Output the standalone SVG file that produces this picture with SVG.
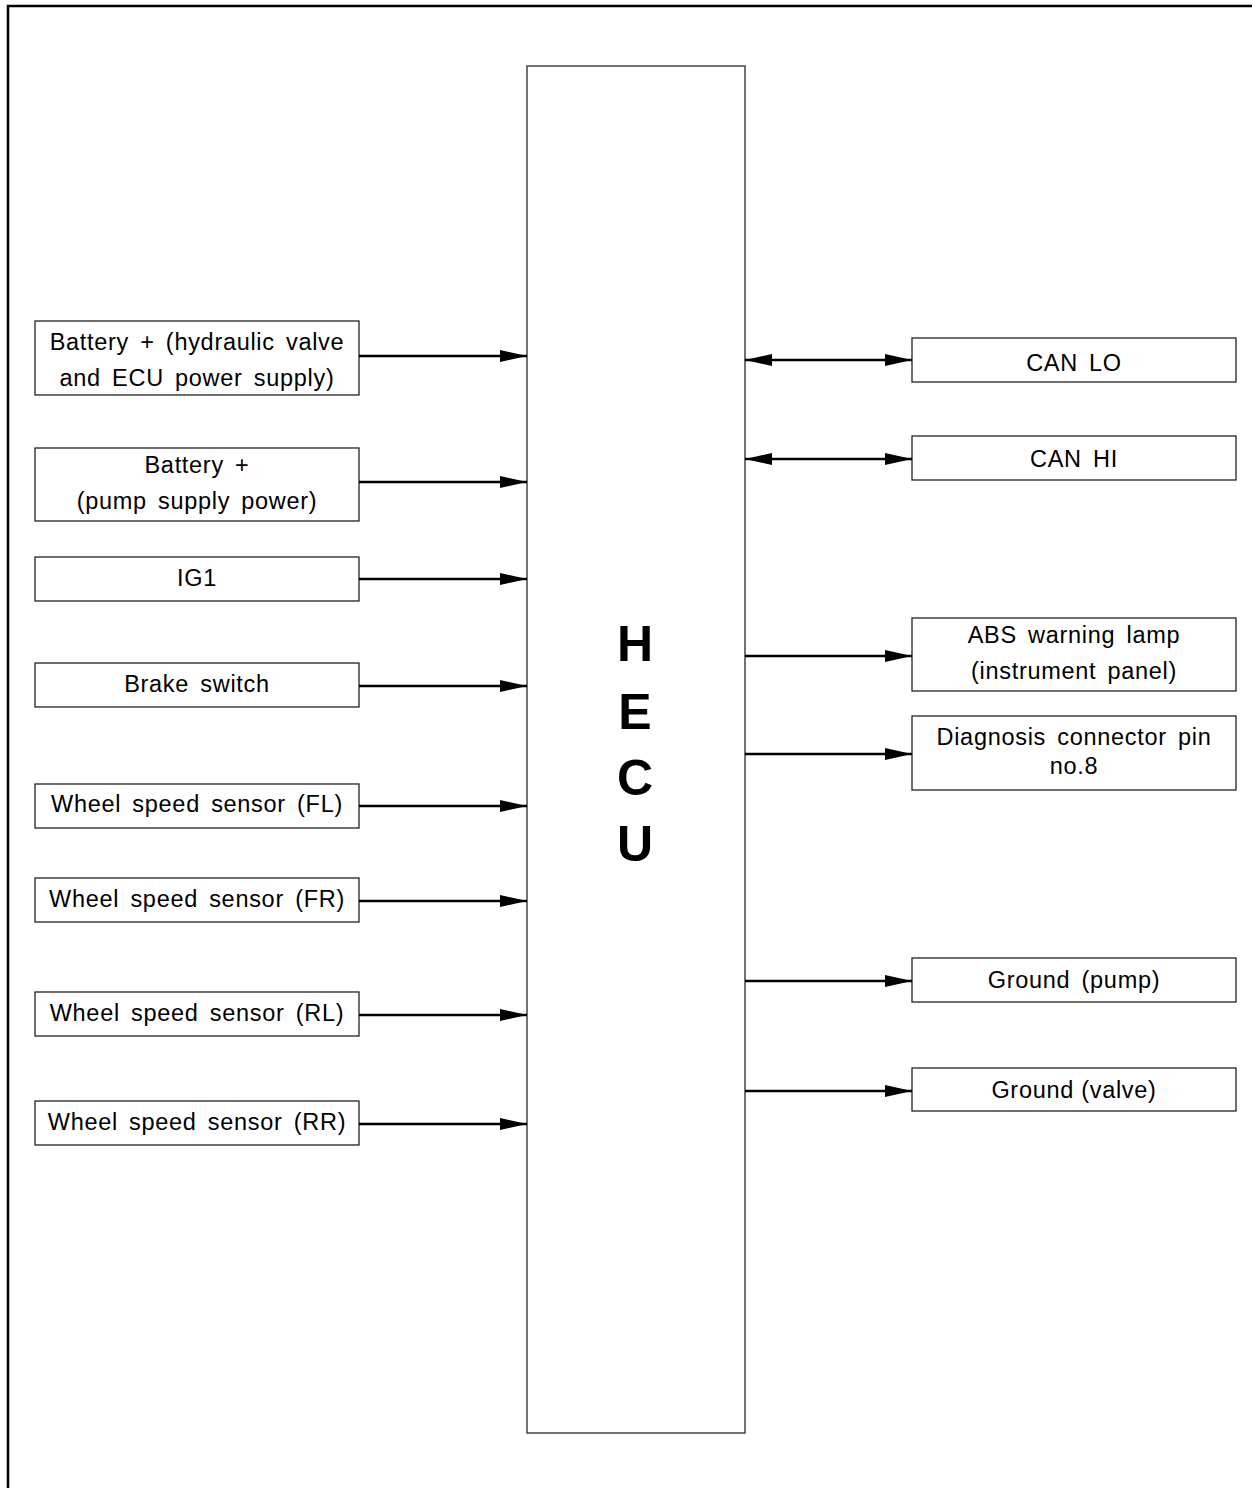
<svg xmlns="http://www.w3.org/2000/svg" width="1252" height="1488" viewBox="0 0 1252 1488">
<style>
.box{fill:#fff;stroke:#222;stroke-width:1.3}
.hecu{fill:#fff;stroke:#444;stroke-width:1.5}
.t{font-family:"Liberation Sans",Arial,sans-serif;font-size:23.5px;fill:#000;text-anchor:middle;letter-spacing:0.7px;word-spacing:4px}
.nw{word-spacing:0}
.big{font-family:"Liberation Sans",Arial,sans-serif;font-size:50px;font-weight:bold;fill:#000;text-anchor:middle}
.c{stroke:#000;stroke-width:2.5;fill:none}
</style>
<defs>
<marker id="ah" markerWidth="27" markerHeight="12" refX="27" refY="6" orient="auto" markerUnits="userSpaceOnUse">
<path d="M0,0 L27,6 L0,12 Z" fill="#000"/>
</marker>
<marker id="as" markerWidth="27" markerHeight="12" refX="0" refY="6" orient="auto" markerUnits="userSpaceOnUse">
<path d="M27,0 L0,6 L27,12 Z" fill="#000"/>
</marker>
</defs>
<rect x="0" y="0" width="1252" height="1488" fill="#fff"/>
<path d="M8,1490 L8,6 L1254,6" fill="none" stroke="#000" stroke-width="2.5"/>
<g id="hecu">
<rect class="hecu" x="527" y="66" width="218" height="1367"/>
<text class="big" x="635" y="661">H</text>
<text class="big" x="635" y="729">E</text>
<text class="big" x="635" y="795">C</text>
<text class="big" x="635" y="861">U</text>
</g>
<g id="n1"><rect class="box" x="35" y="321" width="324" height="74"/><text class="t" x="197" y="350">Battery + (hydraulic valve</text><text class="t" x="197" y="386">and ECU power supply)</text></g>
<g id="n2"><rect class="box" x="35" y="448" width="324" height="73"/><text class="t" x="197" y="473">Battery +</text><text class="t" x="197" y="509">(pump supply power)</text></g>
<g id="n3"><rect class="box" x="35" y="557" width="324" height="44"/><text class="t" x="197" y="586">IG1</text></g>
<g id="n4"><rect class="box" x="35" y="663" width="324" height="44"/><text class="t" x="197" y="692">Brake switch</text></g>
<g id="n5"><rect class="box" x="35" y="784" width="324" height="44"/><text class="t" x="197" y="812">Wheel speed sensor (FL)</text></g>
<g id="n6"><rect class="box" x="35" y="878" width="324" height="44"/><text class="t" x="197" y="907">Wheel speed sensor (FR)</text></g>
<g id="n7"><rect class="box" x="35" y="992" width="324" height="44"/><text class="t" x="197" y="1021">Wheel speed sensor (RL)</text></g>
<g id="n8"><rect class="box" x="35" y="1101" width="324" height="44"/><text class="t" x="197" y="1130">Wheel speed sensor (RR)</text></g>
<g id="r1"><rect class="box" x="912" y="338" width="324" height="44"/><text class="t" x="1074" y="371">CAN LO</text></g>
<g id="r2"><rect class="box" x="912" y="436" width="324" height="44"/><text class="t" x="1074" y="467">CAN HI</text></g>
<g id="r3"><rect class="box" x="912" y="618" width="324" height="73"/><text class="t" x="1074" y="643">ABS warning lamp</text><text class="t" x="1074" y="679">(instrument panel)</text></g>
<g id="r4"><rect class="box" x="912" y="716" width="324" height="74"/><text class="t" x="1074" y="745">Diagnosis connector pin</text><text class="t" x="1074" y="774">no.8</text></g>
<g id="r5"><rect class="box" x="912" y="958" width="324" height="44"/><text class="t" x="1074" y="988">Ground (pump)</text></g>
<g id="r6"><rect class="box" x="912" y="1068" width="324" height="43"/><text class="t nw" x="1074" y="1098">Ground (valve)</text></g>
<g id="connectors">
<line class="c" x1="359" y1="356" x2="527" y2="356" marker-end="url(#ah)"/>
<line class="c" x1="359" y1="482" x2="527" y2="482" marker-end="url(#ah)"/>
<line class="c" x1="359" y1="579" x2="527" y2="579" marker-end="url(#ah)"/>
<line class="c" x1="359" y1="686" x2="527" y2="686" marker-end="url(#ah)"/>
<line class="c" x1="359" y1="806" x2="527" y2="806" marker-end="url(#ah)"/>
<line class="c" x1="359" y1="901" x2="527" y2="901" marker-end="url(#ah)"/>
<line class="c" x1="359" y1="1015" x2="527" y2="1015" marker-end="url(#ah)"/>
<line class="c" x1="359" y1="1124" x2="527" y2="1124" marker-end="url(#ah)"/>
<line class="c" x1="745" y1="360" x2="912" y2="360" marker-start="url(#as)" marker-end="url(#ah)"/>
<line class="c" x1="745" y1="459" x2="912" y2="459" marker-start="url(#as)" marker-end="url(#ah)"/>
<line class="c" x1="745" y1="656" x2="912" y2="656" marker-end="url(#ah)"/>
<line class="c" x1="745" y1="754" x2="912" y2="754" marker-end="url(#ah)"/>
<line class="c" x1="745" y1="981" x2="912" y2="981" marker-end="url(#ah)"/>
<line class="c" x1="745" y1="1091" x2="912" y2="1091" marker-end="url(#ah)"/>
</g>
</svg>
